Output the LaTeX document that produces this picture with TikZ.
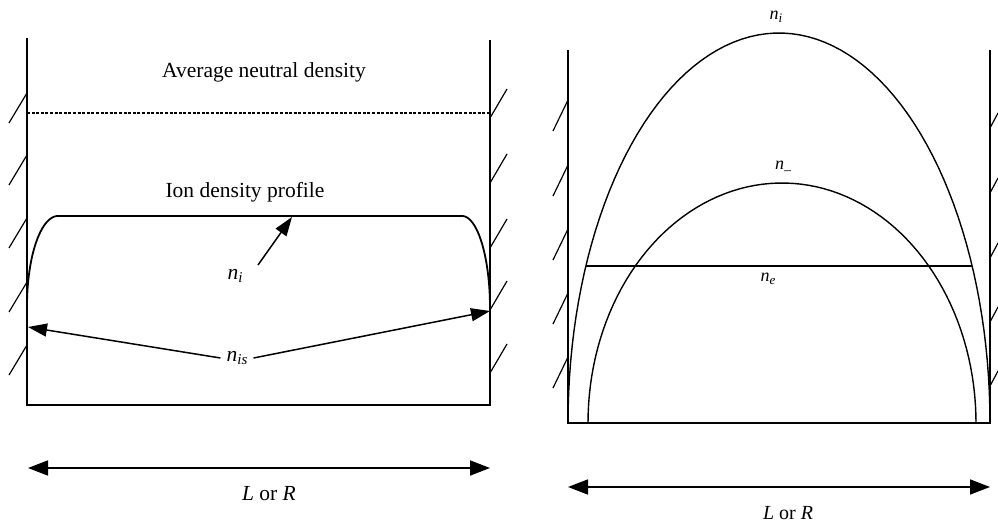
\documentclass[tikz,border=0pt]{standalone}
\usepackage{fontspec}
\setmainfont{Liberation Serif}
\usetikzlibrary{arrows.meta}
\newcommand{\nsub}[2]{\textit{n}\raisebox{-0.35ex}{\fontsize{#1}{#1}\selectfont\textit{#2}}}
\begin{document}
\begin{tikzpicture}[x=1pt,y=-1pt,
  wall/.style={line width=1.8pt},
  wallb/.style={line width=1.4pt},
  hatch/.style={line width=1.2pt},
  arr/.style={line width=1.5pt,-{Triangle[length=19pt,width=13pt]}},
  dimarr/.style={line width=1.7pt,{Triangle[length=20pt,width=15pt]}-{Triangle[length=20pt,width=15pt]}},
  lbl/.style={font=\fontsize{21.5}{24}\selectfont,inner sep=0pt},
  lbls/.style={font=\fontsize{18}{20}\selectfont,inner sep=0pt},
  lblm/.style={font=\fontsize{20}{22}\selectfont,inner sep=0pt}]
\useasboundingbox (0,0) rectangle (998,526);
% ---------------- left panel ----------------
\draw[wall] (27,38) -- (27,405) -- (490,405) -- (490,40);
\foreach \y in {93,155,218,282,345} \draw[hatch] (27,\y) -- (9,\y+30);
\foreach \y in {118,183,248,310,373} \draw[hatch] (490,\y) -- (507,\y-29);
\draw[line width=1.2pt,dash pattern=on 3pt off 1.6pt] (27,113) -- (490,113);
\node[lbl] (avg) at (264,72) {Average neutral density};
\node[lbl] (idp) at (245,192) {Ion density profile};
\draw[wall] plot[samples=40,domain=180:90] ({58+31*cos(\x)},{306-90*sin(\x)})
  -- (462,216) -- plot[samples=40,domain=90:0] ({462+28*cos(\x)},{308-92*sin(\x)});
\node[lbl] (ni) at (235,276) {\nsub{15}{i}};
\coordinate (niA) at (258,265);
\coordinate (niB) at (292,217);
\draw[arr] (niA) -- (niB);
\node[lbl] (nis) at (237,358) {\nsub{15}{is}};
\coordinate (nisL) at (28,327);
\coordinate (nisR) at (490,311);
\draw[arr] ([xshift=-6pt]nis.west) -- (nisL);
\draw[arr] ([xshift=6pt]nis.east) -- (nisR);
\coordinate (LA) at (28,468);
\coordinate (LB) at (490,468);
\draw[dimarr] (LA) -- (LB);
\node[lbl] (lr1) at (269,494) {\textit{L} or \textit{R}};
% ---------------- right panel ----------------
\draw[wallb] (568,50) -- (568,423) -- (990,423) -- (990,50);
\foreach \y in {100,165,229,293,357} \draw[hatch] (568,\y) -- (553,\y+31);
\foreach \y in {128,193,258,322,386} \draw[hatch] (990,\y) -- (998,\y-15);
\draw[wallb] plot[samples=80,domain=0:180] ({779+211*cos(\x)},{423-390*sin(\x)});
\draw[wallb] plot[samples=80,domain=0:180] ({782+194*cos(\x)},{423-240*sin(\x)});
\coordinate (neL) at (586,266);
\coordinate (neR) at (972,266);
\draw[wallb] (neL) -- (neR);
\node[lbls] (ni2) at (776,17) {\nsub{13}{i}};
\node[lbls] (nm) at (783,168) {\textit{n}\raisebox{-0.55ex}{\fontsize{14}{14}\selectfont –}};
\node[lbls] (ne) at (768,279) {\nsub{13}{e}};
\coordinate (RA) at (568,487);
\coordinate (RB) at (990,487);
\draw[dimarr] (RA) -- (RB);
\node[lblm] (lr2) at (788,513) {\textit{L} or \textit{R}};
\end{tikzpicture}
\end{document}
